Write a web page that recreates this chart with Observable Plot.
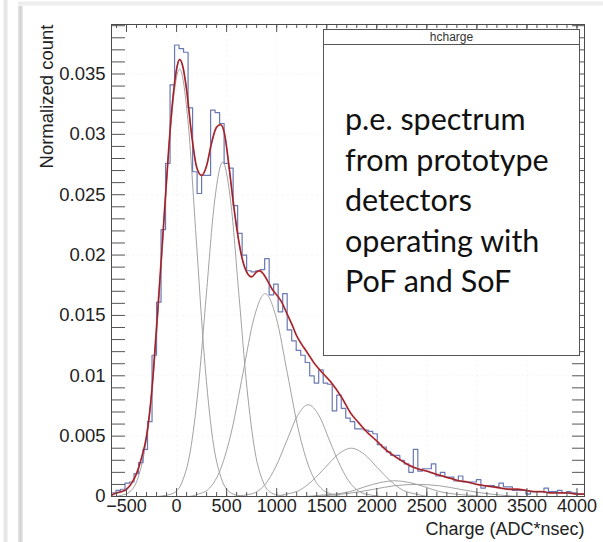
<!DOCTYPE html>
<html>
<head>
<meta charset="utf-8">
<script src="https://cdn.jsdelivr.net/npm/d3@7"></script>
<script src="https://cdn.jsdelivr.net/npm/@observablehq/plot@0.6"></script>
<style>
  body { margin: 0; background: #fff; }
  #wrap { position: relative; width: 603px; height: 542px; overflow: hidden; background: #fff; }
  .deco { position: absolute; }
  #stripA { left: 3px; width: 5px; top: 0; height: 542px; background: linear-gradient(to right, #f4f4f4, #e2e2e2, #f4f4f4); }
  #stripB { left: 18px; width: 5px; top: 6px; height: 536px; background: linear-gradient(to right, #e6e6e6, #d2d2d2, #ececec); }
  #stripC { left: 18px; right: 0; top: 1px; height: 5px; background: linear-gradient(to bottom, #f6f6f6, #ebebeb, #f6f6f6); }
  #chart { position: absolute; left: 0; top: 0; }
  #statbox { position: absolute; left: 323px; top: 29px; width: 257px; height: 327px; background: #fff;
             border: 1px solid #555; box-sizing: border-box; }
  #stathead { height: 14px; border-bottom: 1px solid #555; font-family: "Liberation Sans", Arial, sans-serif;
              font-size: 12px; line-height: 14px; text-align: center; color: #333; }
  #note { position: absolute; left: 345px; top: 98px; font-family: Lato, "Open Sans", sans-serif;
          font-size: 30.5px; line-height: 40.5px; color: #111; white-space: nowrap; }
</style>
</head>
<body>
<div id="wrap">
  <div class="deco" id="stripA"></div>
  <div class="deco" id="stripB"></div>
  <div class="deco" id="stripC"></div>
  <div id="chart"></div>
  <div id="statbox"><div id="stathead"></div></div>
  <div id="note"></div>
</div>
<script>
// ---------- data ----------
const histTitle = "hcharge";
const noteLines = ["p.e. spectrum", "from prototype", "detectors", "operating with", "PoF and SoF"];
const xAxisTitle = "Charge (ADC*nsec)";
const yAxisTitle = "Normalized count";

// histogram: lower bin edges and normalized contents
const binLow = [-650,-605,-560,-515,-470,-425,-380,-335,-290,-245,
  -200,-155,-110,-65,-20,25,70,115,160,205,
  250,295,340,385,430,475,520,565,610,655,
  700,745,790,835,880,925,970,1015,1060,1105,
  1150,1195,1240,1285,1330,1375,1420,1465,1510,1555,
  1600,1645,1690,1735,1780,1825,1870,1915,1960,2005,
  2050,2095,2140,2185,2230,2275,2320,2365,2410,2455,
  2500,2545,2590,2635,2680,2725,2770,2815,2860,2905,
  2950,2995,3040,3085,3130,3175,3220,3265,3310,3355,
  3400,3445,3490,3535,3580,3625,3670,3715,3760,3805,
  3850,3895,3940,3985,4030];
const binHigh = 4075;
const binContent = [0.0003,0.0005,0.0006,0.0011,0.0012,0.0019,0.0028,0.0039,0.0062,0.0117,
  0.0161,0.0221,0.0276,0.0341,0.0374,0.0371,0.0368,0.0322,0.0269,0.0251,
  0.0266,0.0266,0.0320,0.0318,0.0309,0.0276,0.0272,0.0241,0.0218,0.0200,
  0.0187,0.0186,0.0187,0.0188,0.0197,0.0167,0.0176,0.0153,0.0168,0.0138,
  0.0129,0.0121,0.0117,0.0111,0.0100,0.0094,0.0105,0.0094,0.0093,0.0071,
  0.0084,0.0073,0.0065,0.0062,0.0056,0.0056,0.0055,0.0054,0.0052,0.0043,
  0.0041,0.0037,0.0034,0.0034,0.0030,0.0027,0.0020,0.0039,0.0021,0.0023,
  0.0023,0.0027,0.0017,0.0020,0.0016,0.0016,0.0013,0.0017,0.0012,0.0012,
  0.0012,0.0014,0.0007,0.0009,0.0009,0.0008,0.0011,0.0008,0.0008,0.0005,
  0.0005,0.0005,0.0002,0.0004,0.0004,0.0004,0.0007,0.0004,0.0004,0.0005,
  0.0003,0.0004,0.0003,0.0002,0.0002];

// total fit (red curve)
const fitCharge = [-650,-600,-550,-500,-450,-400,-350,-300,-250,-200,-150,-100,-50,0,
  30,60,100,150,200,250,300,350,400,440,480,520,560,600,650,700,750,800,830,870,920,960,1000,
  1050,1100,1150,1200,1250,1300,1370,1450,1540,1650,1740,1820,1907,2000,
  2073,2150,2240,2320,2407,2500,2573,2650,2740,2820,2907,3000,
  3073,3160,3240,3320,3407,3490,3573,3650,3740,3820,3907,3990,4075];
const fitValue = [0.0001,0.0003,0.0004,0.0006,0.0011,0.0019,0.0032,0.0050,0.0085,0.0140,0.0200,0.0262,0.0318,0.0354,
  0.0362,0.0357,0.0337,0.0300,0.0273,0.0266,0.0274,0.0293,0.0306,0.0308,0.0300,0.0276,0.0248,0.0223,0.0199,0.0186,0.0182,0.0186,0.0187,0.0184,0.0177,0.0171,0.0167,
  0.0161,0.0152,0.0143,0.0133,0.0126,0.0120,0.0111,0.0103,0.0095,0.0082,0.0069,0.0061,0.0053,0.0046,
  0.0040,0.0035,0.0030,0.0026,0.0023,0.0021,0.0019,0.0017,0.0015,0.0013,0.0012,0.0010,
  0.0009,0.0008,0.0007,0.0006,0.0006,0.0005,0.0004,0.0004,0.0003,0.0003,0.0003,0.0002,0.0002];

// individual fit components (gray curves), [charge, value]
const peak1 = [[-630,0],[-548,0.0001],[-465,0.0004],[-383,0.0016],[-300,0.0048],[-218,0.0115],[-135,0.0215],[-53,0.0312],[30,0.0354],[113,0.0312],[195,0.0215],[278,0.0115],[360,0.0048],[443,0.0016],[525,0.0004],[608,0.0001],[690,0]];
const peak2 = [[-188,0],[-107,0.0001],[-26,0.0003],[55,0.0012],[136,0.0037],[217,0.0090],[298,0.0168],[379,0.0244],[460,0.0277],[541,0.0244],[622,0.0168],[703,0.0090],[784,0.0037],[865,0.0012],[946,0.0003],[1027,0.0001],[1108,0]];
const peak3 = [[-3,0],[108,0],[219,0.0002],[330,0.0007],[441,0.0023],[552,0.0055],[663,0.0102],[774,0.0148],[885,0.0168],[996,0.0148],[1107,0.0102],[1218,0.0055],[1329,0.0023],[1440,0.0007],[1551,0.0002],[1662,0],[1773,0]];
const peak4 = [[455,0],[563,0],[670,0.0001],[778,0.0003],[885,0.0010],[993,0.0025],[1100,0.0046],[1208,0.0067],[1315,0.0076],[1423,0.0067],[1530,0.0046],[1638,0.0025],[1745,0.0010],[1853,0.0003],[1960,0.0001],[2068,0],[2175,0]];
const peak5 = [[705,0],[835,0],[965,0],[1095,0.0002],[1225,0.0005],[1355,0.0013],[1485,0.0024],[1615,0.0035],[1745,0.0040],[1875,0.0035],[2005,0.0024],[2135,0.0013],[2265,0.0005],[2395,0.0002],[2525,0],[2655,0],[2785,0]];
const peak6 = [[980,0],[1280,0],[1430,0.0001],[1580,0.0002],[1730,0.0004],[1880,0.0008],[2030,0.00115],[2180,0.0013],[2330,0.00115],[2480,0.0008],[2630,0.0004],[2780,0.0002],[2930,0.0001],[3080,0],[3380,0]];
const peak7 = [[895,0],[1110,0],[1325,0],[1540,0.0001],[1755,0.0003],[1970,0.0006],[2185,0.0009],[2400,0.0010],[2615,0.0009],[2830,0.0006],[3045,0.0003],[3260,0.0001],[3475,0],[3690,0],[3905,0]];

// axes
const xDomain = [-650, 4075];
const yDomain = [0, 0.0391];
const xMajor = [-500,0,500,1000,1500,2000,2500,3000,3500,4000];
const xTickLabels = ["\u2212500","0","500","1000","1500","2000","2500","3000","3500","4000"];
const xMinor = [-600,-500,-400,-300,-200,-100,0,100,200,300,400,500,600,700,800,900,1000,
  1100,1200,1300,1400,1500,1600,1700,1800,1900,2000,2100,2200,2300,2400,2500,2600,2700,2800,2900,3000,
  3100,3200,3300,3400,3500,3600,3700,3800,3900,4000];
const yMajor = [0,0.005,0.01,0.015,0.02,0.025,0.03,0.035];
const yTickLabels = ["0","0.005","0.01","0.015","0.02","0.025","0.03","0.035"];
const yMinor = [0.001,0.002,0.003,0.004,0.005,0.006,0.007,0.008,0.009,0.010,0.011,0.012,0.013,0.014,0.015,
  0.016,0.017,0.018,0.019,0.020,0.021,0.022,0.023,0.024,0.025,0.026,0.027,0.028,0.029,0.030,
  0.031,0.032,0.033,0.034,0.035,0.036,0.037,0.038,0.039];

// ---------- drawing ----------
const W = 603, H = 542;
const mL = 111, mR = 19, mT = 24, mB = 46;
const innerW = W - mL - mR, innerH = H - mT - mB;
const font = "'Liberation Sans', Arial, Helvetica, sans-serif";
const fs = 18;

const histStep = binLow.map((x, i) => ({x, y: binContent[i]}))
  .concat([{x: binHigh, y: binContent[binContent.length - 1]}]);
const fit = fitCharge.map((x, i) => ({x, y: fitValue[i]}));
const components = [peak1, peak2, peak3, peak4, peak5, peak6, peak7];

const gridStyle = {stroke: "#9a9a9a", strokeWidth: 0.8, strokeDasharray: "3,2"};
const tickStyle = {stroke: "#555", strokeWidth: 1};

const marks = [
  Plot.gridX(xMajor, gridStyle),
  Plot.gridY(yMajor.filter(v => v > 0), gridStyle),
  ...components.map(c => Plot.line(c, {x: d => d[0], y: d => d[1], stroke: "#a2a2a2", strokeWidth: 1, curve: "monotone-x", clip: true})),
  Plot.line(histStep, {x: "x", y: "y", curve: "step-after", stroke: "#6878b4", strokeWidth: 1.2, clip: true}),
  Plot.line(fit, {x: "x", y: "y", curve: "monotone-x", stroke: "#e0403f", strokeWidth: 1.8, clip: true}),
  Plot.line(fit, {x: "x", y: "y", curve: "monotone-x", stroke: "#5e1f33", strokeWidth: 0.8, clip: true}),
  // ticks (ROOT style, inside the frame)
  Plot.tickY(yMinor, {y: d => d, ...tickStyle, insetRight: innerW - 14}),
  Plot.tickY(yMinor, {y: d => d, ...tickStyle, insetLeft: innerW - 12}),
  Plot.tickX(xMinor, {x: d => d, ...tickStyle, insetTop: innerH - 4}),
  Plot.tickX(xMajor, {x: d => d, ...tickStyle, insetTop: innerH - 8}),
  Plot.tickX(xMinor, {x: d => d, ...tickStyle, insetBottom: innerH - 4}),
  Plot.tickX(xMajor, {x: d => d, ...tickStyle, insetBottom: innerH - 8}),
  Plot.frame({stroke: "#4a4a4a", strokeWidth: 1}),
  // tick labels
  Plot.text(xMajor, {x: d => d, text: (d, i) => xTickLabels[i], frameAnchor: "bottom", lineAnchor: "top", dy: 3, fontSize: fs, fill: "#222"}),
  Plot.text(yMajor, {y: d => d, text: (d, i) => yTickLabels[i], frameAnchor: "left", textAnchor: "end", dx: -6, fontSize: fs + 0.5, fill: "#222"}),
  // axis titles
  Plot.text([xAxisTitle], {frameAnchor: "bottom-right", textAnchor: "end", lineAnchor: "middle", dy: 33, fontSize: fs, fill: "#222"}),
  Plot.text([yAxisTitle], {frameAnchor: "top-left", textAnchor: "end", lineAnchor: "middle", rotate: -90, dx: -64, fontSize: fs + 0.5, fill: "#222"})
];

const chart = Plot.plot({
  width: W, height: H,
  marginLeft: mL, marginRight: mR, marginTop: mT, marginBottom: mB,
  x: {domain: xDomain, axis: null},
  y: {domain: yDomain, axis: null},
  style: {fontFamily: font, fontSize: fs + "px", background: "transparent", overflow: "visible"},
  marks
});
document.getElementById("chart").appendChild(chart);
document.getElementById("stathead").textContent = histTitle;
document.getElementById("note").innerHTML = noteLines.map(s => `<div>${s}</div>`).join("");
</script>
</body>
</html>
